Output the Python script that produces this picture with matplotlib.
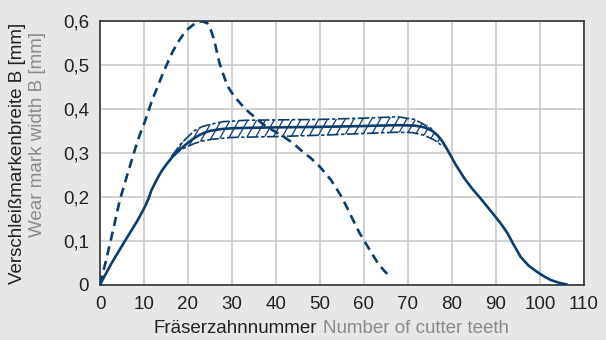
import matplotlib
matplotlib.use("Agg")
import matplotlib.pyplot as plt
from matplotlib.patches import Polygon
import numpy as np

plt.rcParams['font.family'] = ['Liberation Sans', 'DejaVu Sans']

# Data
dash_x = [0, 1.5, 3.0, 4.5, 6.2, 7.9, 9.0, 10.2, 11.1, 12.0, 13.2, 14.3, 15.4, 16.5, 17.6,
          18.8, 20.0, 21.1, 22.0, 22.6, 23.4, 24.4, 25.0, 25.6, 26.2, 26.7, 27.2, 27.8, 28.5,
          29.3, 30.4, 31.6, 33.0, 34.6, 36.0, 37.5, 39.5, 41.7, 44.0, 46.0, 48.0, 50.0, 52.5,
          54.9, 56.5, 57.9, 59.0, 60.2, 61.7, 63.2, 64.7, 66.1]
dash_y = [0, 0.06, 0.125, 0.192, 0.25, 0.306, 0.34, 0.371, 0.398, 0.424, 0.453, 0.481, 0.506,
          0.530, 0.550, 0.568, 0.582, 0.591, 0.597, 0.599, 0.599, 0.595, 0.585, 0.568, 0.546,
          0.523, 0.503, 0.485, 0.465, 0.447, 0.430, 0.416, 0.400, 0.386, 0.374, 0.362, 0.350,
          0.337, 0.321, 0.303, 0.287, 0.268, 0.238, 0.200, 0.168, 0.139, 0.117, 0.097, 0.072,
          0.048, 0.030, 0.016]

solid_x = [0, 2.6, 5.6, 8.6, 10.2, 11.0, 11.7, 12.8, 13.9, 15.2, 16.5, 18.2, 19.9, 21.2, 22.5,
           23.8, 25.0, 27.5, 30, 40, 50, 60, 67.7, 71.5, 73.7, 75.5, 76.7, 77.9, 79.0, 80.9,
           82.8, 84.6, 86.5, 88.2, 89.9, 91.3, 92.6, 94.1, 95.6, 97.4, 99.3, 101.0, 102.5,
           104.3, 106.1]
solid_y = [0, 0.048, 0.098, 0.147, 0.177, 0.195, 0.215, 0.237, 0.257, 0.275, 0.291, 0.308,
           0.322, 0.332, 0.340, 0.346, 0.350, 0.354, 0.356, 0.358, 0.359, 0.361, 0.363, 0.362,
           0.358, 0.350, 0.340, 0.325, 0.306, 0.272, 0.242, 0.218, 0.196, 0.175, 0.154, 0.136,
           0.117, 0.089, 0.063, 0.043, 0.029, 0.018, 0.010, 0.004, 0]

upper_x = [16.2, 18.5, 21.4, 23.3, 25.6, 28, 33, 40, 50, 60, 67.7, 71.5, 75.2, 77.5, 78.5]
upper_y = [0.291, 0.322, 0.350, 0.360, 0.366, 0.371, 0.374, 0.375, 0.376, 0.379, 0.382,
           0.376, 0.356, 0.330, 0.312]

lower_x = [16.2, 18.5, 21.4, 23.3, 25.6, 30, 40, 50, 60, 67.7, 71, 73.7, 76, 77.5]
lower_y = [0.291, 0.308, 0.321, 0.327, 0.331, 0.335, 0.337, 0.340, 0.344, 0.347, 0.346,
           0.340, 0.329, 0.318]

x_ticks = [0, 10, 20, 30, 40, 50, 60, 70, 80, 90, 100, 110]
y_ticks = [0, 0.1, 0.2, 0.3, 0.4, 0.5, 0.6]
y_ticklabels = ['0', '0,1', '0,2', '0,3', '0,4', '0,5', '0,6']

navy = '#0b3c6e'
dark = '#222222'
gray = '#8a8a8a'
fs = 13.5

fig = plt.figure(figsize=(6.06, 3.40), dpi=100)
fig.patch.set_facecolor('#e6e7e9')
ax = fig.add_axes([100/606, 1-284.5/340, 484/606, (284.5-21.1)/340])
ax.set_facecolor('white')
ax.set_xlim(0, 110)
ax.set_ylim(0, 0.6)

# hatched band: custom diagonal hatch lines clipped to the band polygon
poly = Polygon(np.column_stack([np.concatenate([upper_x, lower_x[::-1]]),
                                np.concatenate([upper_y, lower_y[::-1]])]),
               closed=True, facecolor='none', edgecolor='none')
ax.add_patch(poly)
spacing = 2.0                      # along x, data units
slope = 0.0175                     # data y per data x (~60 deg on screen)
y0, y1 = 0.28, 0.40
for c in np.arange(min(upper_x) - 8, max(upper_x) + 2, spacing):
    ln, = ax.plot([c, c + (y1 - y0) / slope], [y0, y1], color=navy, lw=0.9, zorder=2)
    ln.set_clip_path(poly)

ax.plot(upper_x, upper_y, color=navy, lw=1.2, dashes=(7, 1.5, 2, 1.5), zorder=3)
ax.plot(lower_x, lower_y, color=navy, lw=1.2, dashes=(7, 1.5, 2, 1.5), zorder=3)

ax.plot(solid_x, solid_y, color=navy, lw=1.9, solid_joinstyle='round',
        solid_capstyle='round', zorder=4)
ax.plot(dash_x, dash_y, color=navy, lw=1.9, dashes=(3.5, 2.2), zorder=4)

ax.set_xticks(x_ticks)
ax.set_xticklabels([str(v) for v in x_ticks])
ax.set_yticks(y_ticks)
ax.set_yticklabels(y_ticklabels)
ax.grid(True, color='#c9c9c9', lw=1.2)
ax.set_axisbelow(True)
ax.tick_params(length=0, labelsize=fs, colors=dark)
ax.tick_params(axis='x', pad=8)
ax.tick_params(axis='y', pad=8)
for s in ax.spines.values():
    s.set_color('#333333')
    s.set_linewidth(1.2)

fig.text(17.5/606, 1-153/340, 'Verschleißmarkenbreite B [mm]', rotation=90,
         ha='center', va='center', fontsize=fs, color=dark)
fig.text(38/606, 1-134/340, 'Wear mark width B [mm]', rotation=90,
         ha='center', va='center', fontsize=fs, color=gray)
fig.text(317/606, 1-333/340, 'Fräserzahnnummer', ha='right', va='baseline',
         fontsize=fs, color=dark)
fig.text(323/606, 1-333/340, 'Number of cutter teeth', ha='left', va='baseline',
         fontsize=fs, color=gray)

fig.savefig('out.png', dpi=100, facecolor=fig.get_facecolor())
